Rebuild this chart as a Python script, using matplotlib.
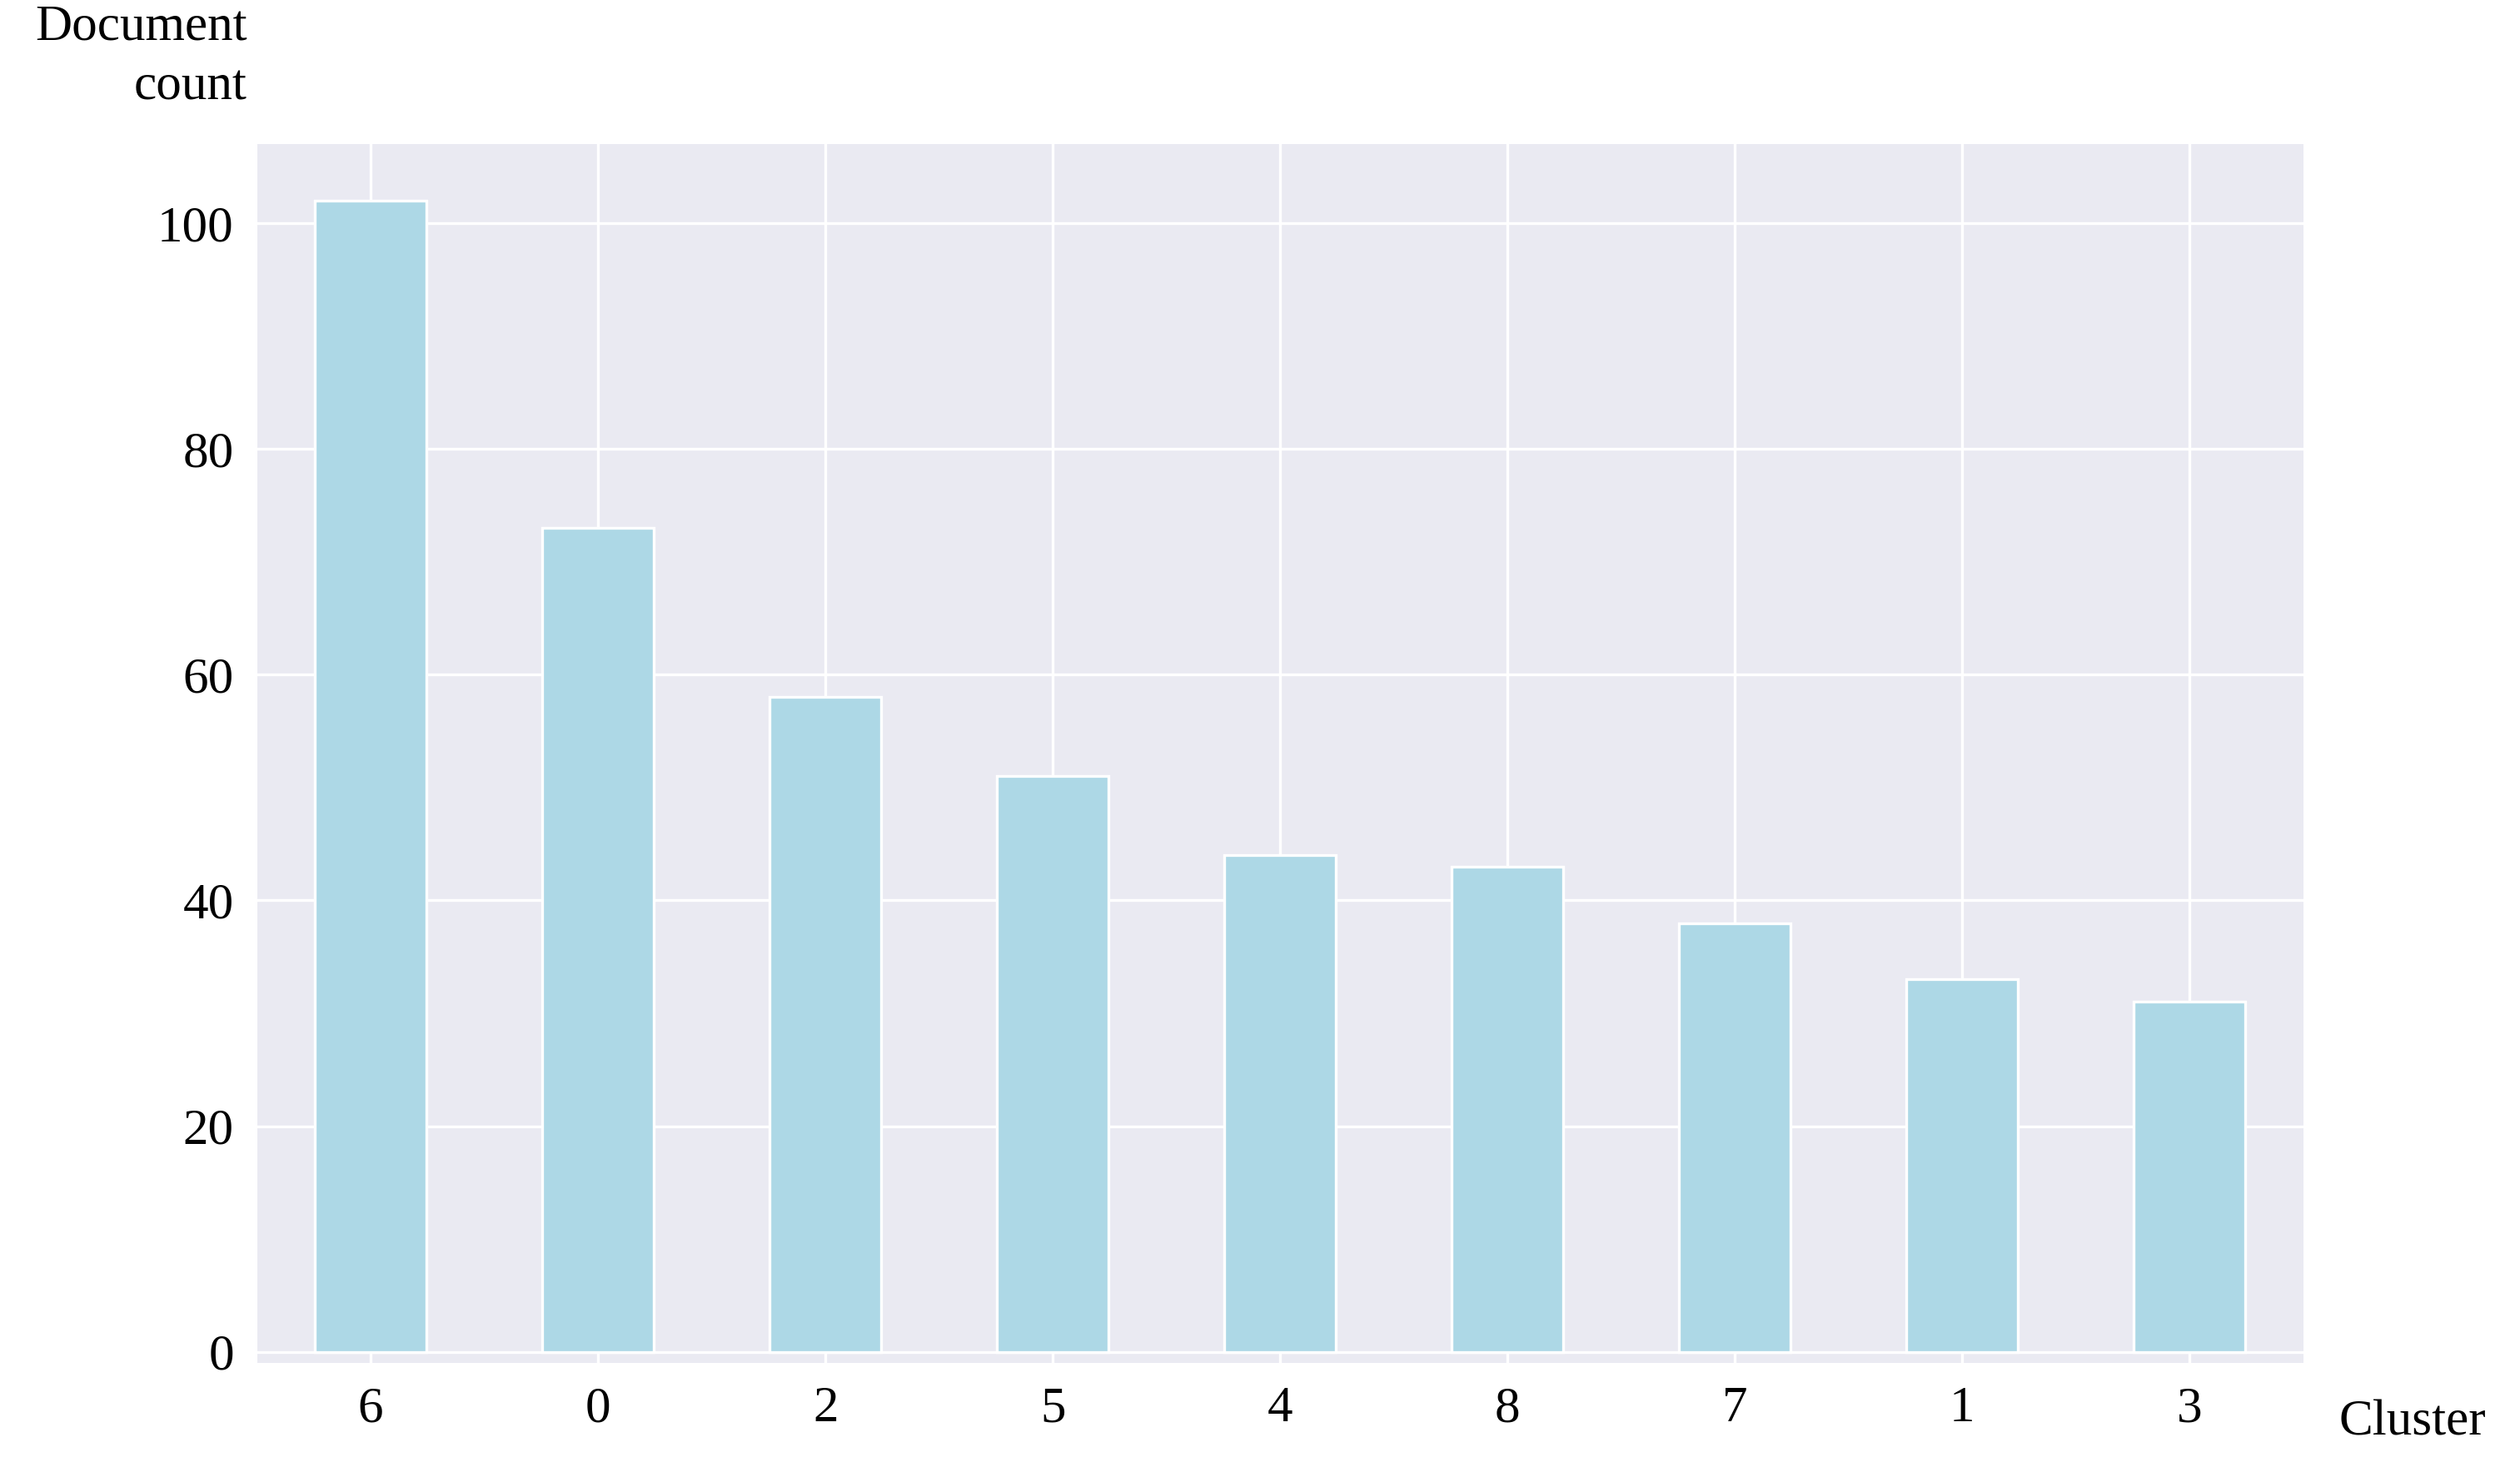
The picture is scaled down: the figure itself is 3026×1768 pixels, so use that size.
import matplotlib
matplotlib.use("Agg")
import matplotlib.pyplot as plt

# ── Data ──────────────────────────────────────────────────────────────────────
clusters = ["6", "0", "2", "5", "4", "8", "7", "1", "3"]
counts   = [102, 73, 58, 51, 44, 43, 38, 33, 31]

BAR  = "#ADD8E6"
BG   = "#EAEAF2"

plt.rcParams.update({
    "font.family": ["Liberation Serif", "DejaVu Serif"],
    "font.size":   22,
})

fig = plt.figure(figsize=(15.13, 8.84), dpi=200)
ax = fig.add_axes([0.102, 0.074, 0.812, 0.828])
ax.set_facecolor(BG)
ax.set_axisbelow(True)
ax.grid(True, color="white", linewidth=1.2)
for s in ax.spines.values():
    s.set_visible(False)

x = range(len(clusters))
ax.bar(x, counts, width=0.49, color=BAR, edgecolor="white", linewidth=1.2)

ax.set_xticks(list(x))
ax.set_xticklabels(clusters)
ax.set_yticks([0, 20, 40, 60, 80, 100])
ax.set_xlim(-0.5, 8.5)
ax.set_ylim(-1, 107)
ax.tick_params(length=0, pad=10)

fig.text(0.098, 0.925, "Document\ncount", ha="right", va="bottom",
         fontsize=22, linespacing=1.4)
fig.text(0.928, 0.018, "Cluster", ha="left", va="bottom", fontsize=22)

fig.savefig("out.png", dpi=200, facecolor="white")
